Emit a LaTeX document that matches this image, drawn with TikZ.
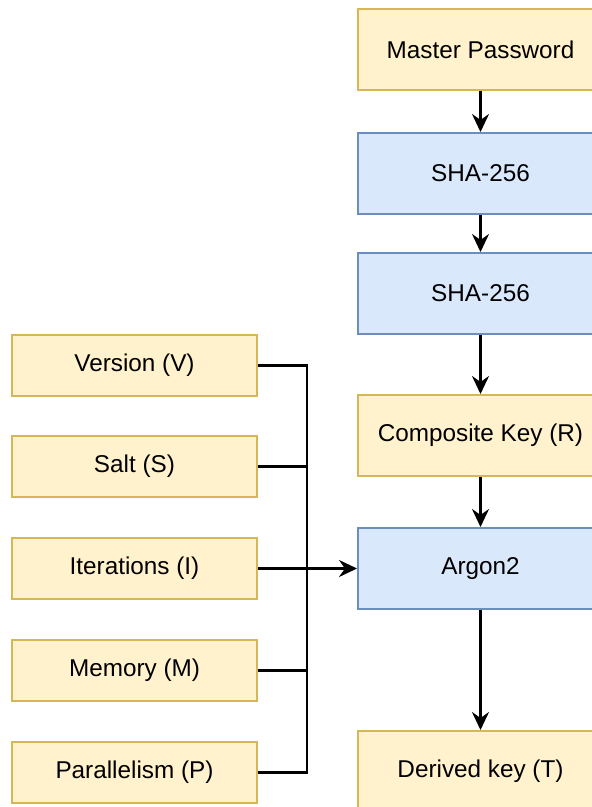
\documentclass[tikz,border=0pt]{standalone}
\usepackage{fontspec}
\setmainfont{Liberation Sans}
\usetikzlibrary{arrows.meta}
\definecolor{yfill}{HTML}{FFF2CC}
\definecolor{ydraw}{HTML}{D6B656}
\definecolor{bfill}{HTML}{DAE8FC}
\definecolor{bdraw}{HTML}{6C8EBF}
\tikzset{
  box/.style={rectangle, inner sep=0pt, line width=2pt, text=black,
    font=\fontsize{24.3}{28}\selectfont},
  ybox/.style={box, fill=yfill, draw=ydraw},
  bbox/.style={box, fill=bfill, draw=bdraw},
  rightbox/.style={minimum width=245pt, minimum height=81pt},
  leftbox/.style={minimum width=245pt, minimum height=61pt},
  flow/.style={line width=2.4pt, draw=black, -{Stealth[length=18pt, width=17pt, inset=6pt]}},
  wire/.style={line width=2.4pt, draw=black}
}
\begin{document}
\begin{tikzpicture}[x=1pt, y=-1pt]
  \useasboundingbox (0,0) rectangle (592,807);
  \clip (0,0) rectangle (592,807);

  % main chain
  \node[ybox, rightbox] (mp)   at (480.5, 49.5)  {Master Password};
  \node[bbox, rightbox] (sha1) at (480.5, 173.5) {SHA-256};
  \node[bbox, rightbox] (sha2) at (480.5, 293.5) {SHA-256};
  \node[ybox, rightbox] (ck)   at (480.5, 435.5) {Composite Key (R)};
  \node[bbox, rightbox] (arg)  at (480.5, 568.5) {Argon2};
  \node[ybox, rightbox] (dk)   at (480.5, 771.5) {Derived key (T)};

  % parameters
  \node[ybox, leftbox] (ver)  at (134.5, 365.5) {Version (V)};
  \node[ybox, leftbox] (salt) at (134.5, 466.5) {Salt (S)};
  \node[ybox, leftbox] (it)   at (134.5, 568.5) {Iterations (I)};
  \node[ybox, leftbox] (mem)  at (134.5, 670.5) {Memory (M)};
  \node[ybox, leftbox] (par)  at (134.5, 772.5) {Parallelism (P)};

  \coordinate (bus) at (307, 568.5);

  \draw[flow] (mp) -- (sha1);
  \draw[flow] (sha1) -- (sha2);
  \draw[flow] (sha2) -- (ck);
  \draw[flow] (ck) -- (arg);
  \draw[flow] (arg) -- (dk);

  \foreach \n in {ver, salt, it, mem, par}
    \draw[wire] (\n.east) -| (bus);
  \draw[flow] (bus) -- (arg.west);
\end{tikzpicture}
\end{document}
